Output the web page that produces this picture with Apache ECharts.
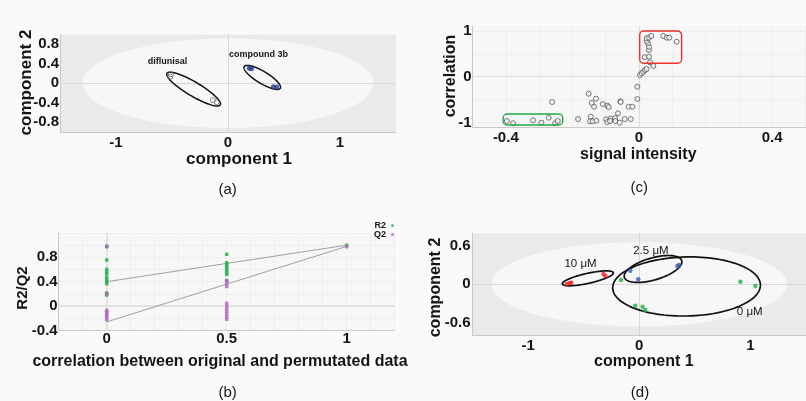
<!DOCTYPE html>
<html>
<head>
<meta charset="utf-8">
<script src="https://cdn.jsdelivr.net/npm/echarts@6/dist/echarts.min.js"></script>
<style>
html, body { margin: 0; padding: 0; background: #fafafa; }
#main { width: 806px; height: 401px; }
</style>
</head>
<body>
<div id="main"></div>
<script>
// ---- (a) score plot, diflunisal vs compound 3b
var difScores = [[-0.51, 0.185], [-0.515, 0.135], [-0.135, -0.345], [-0.10, -0.39]];
var cmpScores = [[0.19, 0.31], [0.21, 0.295], [0.405, -0.07], [0.435, -0.075]];
// ellipses: centre, end of long axis, end of short axis (data units)
var hotellingA = [[0, 0, 1.3, 0, 0, 0.92]];
var groupEllA = [
    [-0.307, -0.12, -0.069, -0.444, -0.339, -0.244],
    [0.306, 0.12, 0.467, -0.103, 0.278, 0.015]
];
var groupNamesA = ['diflunisal', 'compound 3b'];
var groupNameAtA = [[-0.54, 0.443], [0.273, 0.59]];

// ---- (b) permutation test
var permX = [0, 0.5, 1];
var r2Vals = [
    [0.974, 0.755, 0.603, 0.563, 0.53, 0.472, 0.438, 0.40, 0.366, 0.213, 0.181],
    [0.849, 0.711, 0.685, 0.652, 0.619, 0.586, 0.553, 0.52, 0.42],
    [1.0]
];
var q2Vals = [
    [0.985, 0.205, -0.07, -0.10, -0.13, -0.16, -0.19, -0.225],
    [0.41, 0.366, 0.323, 0.044, 0, -0.044, -0.087, -0.131, -0.176, -0.218],
    [0.975]
];
var r2Fit = [[0, 0.40], [1, 1.0]];
var q2Fit = [[0, -0.26], [1, 0.98]];

// ---- (c) S-plot
var splot = [
    [-0.397, -0.967], [-0.378, -1.017], [-0.318, -0.952], [-0.293, -1.004], [-0.271, -0.895],
    [-0.252, -1.017], [-0.244, -0.967], [-0.261, -0.552], [-0.183, -0.924], [-0.151, -0.371],
    [-0.142, -0.574], [-0.129, -0.48], [-0.135, -0.655], [-0.145, -0.873], [-0.147, -0.974],
    [-0.139, -0.974], [-0.128, -0.961], [-0.109, -0.596], [-0.095, -0.633], [-0.091, -0.662],
    [-0.099, -0.93], [-0.095, -0.989], [-0.085, -0.917], [-0.087, -0.967], [-0.072, -0.902],
    [-0.071, -0.967], [-0.056, -0.537], [-0.055, -0.552], [-0.063, -0.799], [-0.058, -1.004],
    [-0.043, -0.924], [-0.031, -0.655], [-0.02, -0.655], [-0.025, -0.924], [-0.005, -0.487],
    [-0.005, -0.218], [0.003, 0.037], [0.008, 0.074], [0.013, 0.109], [0.018, 0.146],
    [0.023, 0.168], [0.017, 0.424], [0.03, 0.437], [0.033, 0.314], [0.043, 0.234],
    [0.03, 0.583], [0.03, 0.655], [0.027, 0.729], [0.023, 0.779], [0.023, 0.838],
    [0.03, 0.852], [0.037, 0.889], [0.073, 0.889], [0.083, 0.852], [0.091, 0.852],
    [0.113, 0.764]
];
// highlighted regions: x1, y1, x2, y2
var splotBoxes = [[-0.408, -0.814, -0.229, -1.055], [0.002, 0.998, 0.128, 0.293]];
var splotBoxColors = ['#22a94a', '#e8302c'];

// ---- (d) score plot, three concentrations
var dose10 = [[-0.651, 0.005], [-0.627, 0.016], [-0.612, 0.026], [-0.322, 0.161], [-0.304, 0.13]];
var dose25 = [[-0.081, 0.213], [-0.009, 0.078], [0.343, 0.286], [0.358, 0.302]];
var dose0 = [[-0.164, 0.067], [-0.036, -0.335], [0.03, -0.35], [0.054, -0.402], [0.91, 0.041], [1.045, -0.027]];
var hotellingD = [[0, 0, 1.33, 0, 0, 0.66]];
var groupEllD = [
    [-0.4625, 0.093, -0.233, 0.181, -0.453, 0.0165],
    [0.124, 0.24, 0.382, 0.37, 0.151, 0.074],
    [0.4255, -0.034, 1.09, -0.01, 0.43, -0.496]
];
var groupNamesD = ['10 μM', '2.5 μM', '0 μM'];
var groupNameAtD = [[-0.528, 0.318], [0.105, 0.526], [0.994, -0.438]];

var FONT = 'Liberation Sans, Arial, sans-serif';
var INK = '#141414';

function ellipseRender(style) {
    return function (params, api) {
        var c = api.coord([api.value(0), api.value(1)]);
        var a = api.coord([api.value(2), api.value(3)]);
        var b = api.coord([api.value(4), api.value(5)]);
        var pts = [];
        for (var i = 0; i < 120; i++) {
            var t = i / 120 * Math.PI * 2;
            pts.push([
                c[0] + (a[0] - c[0]) * Math.cos(t) + (b[0] - c[0]) * Math.sin(t),
                c[1] + (a[1] - c[1]) * Math.cos(t) + (b[1] - c[1]) * Math.sin(t)
            ]);
        }
        return { type: 'polygon', shape: { points: pts }, style: style };
    };
}

function textRender(names, size, weight) {
    return function (params, api) {
        var p = api.coord([api.value(0), api.value(1)]);
        return {
            type: 'text', x: p[0], y: p[1],
            style: {
                text: names[params.dataIndex], fill: INK,
                font: weight + ' ' + size + 'px ' + FONT,
                align: 'center', verticalAlign: 'middle',
                textAlign: 'center', textVerticalAlign: 'middle'
            }
        };
    };
}

function boxRender(params, api) {
    var p1 = api.coord([api.value(0), api.value(1)]);
    var p2 = api.coord([api.value(2), api.value(3)]);
    return {
        type: 'rect',
        shape: {
            x: Math.min(p1[0], p2[0]), y: Math.min(p1[1], p2[1]),
            width: Math.abs(p2[0] - p1[0]), height: Math.abs(p2[1] - p1[1]), r: 4
        },
        style: { fill: 'none', stroke: splotBoxColors[params.dataIndex], lineWidth: 1.4 }
    };
}

function pairs(xs, groups) {
    var out = [];
    for (var i = 0; i < xs.length; i++) {
        for (var j = 0; j < groups[i].length; j++) out.push([xs[i], groups[i][j]]);
    }
    return out;
}

function zeroLines(color, width, z) {
    return {
        silent: true, symbol: 'none', z: z,
        label: { show: false },
        lineStyle: { color: color, width: width, type: 'solid' },
        data: [{ xAxis: 0 }, { yAxis: 0 }]
    };
}

function ticks(values, margin) {
    return { customValues: values, fontSize: 15, fontWeight: 'bold', color: INK, fontFamily: FONT, margin: margin };
}

function axis(idx, min, max, extra) {
    var o = {
        gridIndex: idx, type: 'value', min: min, max: max,
        axisLine: { show: true, onZero: false, lineStyle: { color: '#c8c8c8' } },
        axisTick: { show: false },
        splitLine: { show: false }
    };
    for (var k in extra) o[k] = extra[k];
    return o;
}

function label(text, x, y, size, weight, rot) {
    return {
        type: 'text', x: x, y: y, rotation: rot || 0,
        style: {
            text: text, fill: INK, font: weight + ' ' + size + 'px ' + FONT,
            align: 'center', verticalAlign: 'middle',
            textAlign: 'center', textVerticalAlign: 'middle'
        }
    };
}

var faint = { show: true, lineStyle: { color: '#eeeeee', width: 1 } };

var option = {
    backgroundColor: '#fafafa',
    animation: false,
    textStyle: { fontFamily: FONT },
    grid: [
        { left: 60, top: 34.5, width: 336, height: 97.5, show: true, backgroundColor: '#eaeaea', borderWidth: 0 },
        { left: 58.7, top: 233, width: 336, height: 97.4, show: true, backgroundColor: '#f7f7f7', borderWidth: 0 },
        { left: 472.5, top: 26.3, width: 333, height: 100.8, show: true, backgroundColor: '#f7f7f7', borderWidth: 0 },
        { left: 472.5, top: 233.2, width: 335, height: 102.2, show: true, backgroundColor: '#eaeaea', borderWidth: 0 }
    ],
    xAxis: [
        axis(0, -1.5, 1.5, { axisLabel: ticks([-1, 0, 1], 3) }),
        axis(1, -0.2, 1.2, { interval: 0.1, splitLine: faint, axisLabel: ticks([0, 0.5, 1], 1) }),
        axis(2, -0.5, 0.5, { interval: 0.1, splitLine: faint, axisLabel: ticks([-0.4, 0, 0.4], 3) }),
        axis(3, -1.5, 1.5, { axisLabel: ticks([-1, 0, 1], 3) })
    ],
    yAxis: [
        axis(0, -1, 1, { axisLabel: ticks([-0.8, -0.4, 0, 0.4, 0.8], 1) }),
        axis(1, -0.4, 1.2, { interval: 0.2, splitLine: faint, axisLabel: ticks([-0.4, 0, 0.4, 0.8], 1) }),
        axis(2, -1.1, 1.1, { axisTick: { show: false, customValues: [-1, -0.5, 0, 0.5, 1] }, splitLine: faint,
            axisLabel: ticks([-1, 0, 1], 1) }),
        axis(3, -0.8, 0.8, { axisLabel: ticks([-0.6, 0, 0.6], 2) })
    ],
    legend: {
        data: ['R2', 'Q2'], orient: 'vertical', right: 412, top: 221, padding: 0,
        align: 'right', icon: 'circle', itemWidth: 3, itemHeight: 3, itemGap: 0,
        textStyle: { fontSize: 9, fontWeight: 'bold', color: INK, fontFamily: FONT, lineHeight: 8 }
    },
    series: [
        // (a)
        { type: 'custom', xAxisIndex: 0, yAxisIndex: 0, z: 1, silent: true, data: hotellingA,
          renderItem: ellipseRender({ fill: '#f7f7f7', stroke: 'none' }) },
        { type: 'scatter', name: 'diflunisal', xAxisIndex: 0, yAxisIndex: 0, z: 4, data: difScores,
          symbolSize: 5, itemStyle: { color: 'rgba(0,0,0,0)', borderColor: '#707070', borderWidth: 1 },
          markLine: zeroLines('#d8d8d8', 1, 2) },
        { type: 'custom', xAxisIndex: 0, yAxisIndex: 0, z: 3, silent: true, data: groupEllA,
          renderItem: ellipseRender({ fill: 'none', stroke: '#111', lineWidth: 1.5 }) },
        { type: 'scatter', name: 'compound 3b', xAxisIndex: 0, yAxisIndex: 0, z: 4, data: cmpScores,
          symbolSize: 5, itemStyle: { color: '#1f3e8c' } },
        { type: 'custom', xAxisIndex: 0, yAxisIndex: 0, z: 5, silent: true, data: groupNameAtA,
          renderItem: textRender(groupNamesA, 9, 'bold') },

        // (b)
        { type: 'line', name: 'R2 fit', xAxisIndex: 1, yAxisIndex: 1, z: 3, data: r2Fit, symbol: 'none',
          silent: true, lineStyle: { color: '#a0a0a0', width: 1 },
          markLine: zeroLines('#e2e2e2', 2, 1) },
        { type: 'line', name: 'Q2 fit', xAxisIndex: 1, yAxisIndex: 1, z: 3, data: q2Fit, symbol: 'none',
          silent: true, lineStyle: { color: '#a0a0a0', width: 1 } },
        { type: 'scatter', name: 'R2', xAxisIndex: 1, yAxisIndex: 1, z: 4, data: pairs(permX, r2Vals),
          symbol: 'roundRect', symbolSize: [3.5, 3.5], itemStyle: { color: '#1fae4b' } },
        { type: 'scatter', name: 'Q2', xAxisIndex: 1, yAxisIndex: 1, z: 4, data: pairs(permX, q2Vals),
          symbol: 'roundRect', symbolSize: [3.5, 3.5], itemStyle: { color: '#b064c2' } },

        // (c)
        { type: 'scatter', name: 'variables', xAxisIndex: 2, yAxisIndex: 2, z: 4, data: splot,
          symbolSize: 5, itemStyle: { color: '#f4f4f4', borderColor: '#444', borderWidth: 0.9 },
          markLine: zeroLines('#dedede', 1.2, 2) },
        { type: 'custom', xAxisIndex: 2, yAxisIndex: 2, z: 5, silent: true, data: splotBoxes,
          renderItem: boxRender },

        // (d)
        { type: 'custom', xAxisIndex: 3, yAxisIndex: 3, z: 1, silent: true, data: hotellingD,
          renderItem: ellipseRender({ fill: '#f7f7f7', stroke: 'none' }) },
        { type: 'custom', xAxisIndex: 3, yAxisIndex: 3, z: 3, silent: true, data: groupEllD,
          renderItem: ellipseRender({ fill: 'none', stroke: '#111', lineWidth: 1.7 }) },
        { type: 'scatter', name: '10 μM', xAxisIndex: 3, yAxisIndex: 3, z: 4, data: dose10,
          symbolSize: 4.5, itemStyle: { color: '#ea2323' },
          markLine: zeroLines('#d8d8d8', 1, 2) },
        { type: 'scatter', name: '2.5 μM', xAxisIndex: 3, yAxisIndex: 3, z: 4, data: dose25,
          symbolSize: 4.5, itemStyle: { color: '#3a5db0' } },
        { type: 'scatter', name: '0 μM', xAxisIndex: 3, yAxisIndex: 3, z: 4, data: dose0,
          symbolSize: 4.5, itemStyle: { color: '#1fae4b' } },
        { type: 'custom', xAxisIndex: 3, yAxisIndex: 3, z: 5, silent: true, data: groupNameAtD,
          renderItem: textRender(groupNamesD, 11.5, 'normal') }
    ],
    graphic: [
        label('component 2', 26.5, 82.5, 17, 'bold', Math.PI / 2),
        label('component 1', 239, 159, 17, 'bold'),
        label('(a)', 227.7, 190, 15, 'normal'),
        label('R2/Q2', 23, 288, 15, 'bold', Math.PI / 2),
        label('correlation between original and permutated data', 220, 361.7, 16, 'bold'),
        label('(b)', 227.7, 393.3, 15, 'normal'),
        label('correlation', 451, 76, 16, 'bold', Math.PI / 2),
        label('signal intensity', 638.3, 154.2, 16, 'bold'),
        label('(c)', 639.3, 188.3, 15, 'normal'),
        label('component 2', 435.5, 287.5, 16, 'bold', Math.PI / 2),
        label('component 1', 643.8, 361.7, 16, 'bold'),
        label('(d)', 640, 393.3, 15, 'normal')
    ]
};

var myChart = echarts.init(document.getElementById('main'));
myChart.setOption(option);
</script>
</body>
</html>
